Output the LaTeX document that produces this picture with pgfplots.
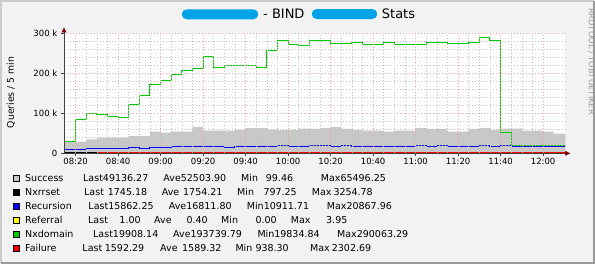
\documentclass[border=0pt]{standalone}
\usepackage{fontspec}
\setmainfont{DejaVu Sans}
\usepackage{pgfplots}
\pgfplotsset{compat=1.18}
\usetikzlibrary{arrows.meta}
\definecolor{bgc}{HTML}{F2F2F2}
\definecolor{shadea}{HTML}{CBCBCB}
\definecolor{shadeb}{HTML}{999999}
\definecolor{succ}{HTML}{C8C8C8}
\definecolor{nxd}{HTML}{00CC00}
\definecolor{recb}{HTML}{0000FF}
\definecolor{failr}{HTML}{FF0000}
\definecolor{refy}{HTML}{FFFF00}
\definecolor{mgrid}{HTML}{EFA0A0}
\definecolor{grid}{HTML}{C8C8C8}
\definecolor{arrowc}{HTML}{7F0000}
\definecolor{blob}{HTML}{00A3E6}
\newcommand{\lf}{\fontsize{9.5bp}{11bp}\selectfont}
\newcommand{\lt}[3]{\node[anchor=base west, inner sep=0pt, font=\lf] at (#1,#2) {#3};}
\newcommand{\sq}[2]{\draw[fill=#2, draw=black, line width=0.6bp] (13.3,#1-3) rectangle (19.3,#1+3);}
\begin{document}
\begin{tikzpicture}
\begin{scope}[x=1bp,y=-1bp]
  \fill[bgc] (0,0) rectangle (595,264);
  \draw[shadea, line width=2bp] (1,263) -- (1,1) -- (594,1);
  \draw[shadeb, line width=2bp] (1,263) -- (594,263) -- (594,1);
  % title
  \fill[blob, rounded corners=5bp] (181.7,9.3) rectangle (258.3,19.3);
  \fill[blob, rounded corners=5bp] (311.7,9) rectangle (377.3,19);
  \node[anchor=base west, inner sep=0pt, font=\fontsize{13bp}{15bp}\selectfont] at (263,18.3) {- BIND};
  \node[anchor=base west, inner sep=0pt, font=\fontsize{13bp}{15bp}\selectfont] at (381.7,18.3) {Stats};
  % y label
  \node[rotate=90, inner sep=0pt, font=\fontsize{9.3bp}{11bp}\selectfont] at (11,92.5) {Queries / 5 min};
  % credit
  \node[rotate=-90, inner sep=0pt, text=shadeb, font=\fontsize{8.3bp}{10bp}\selectfont] at (591.5,61.5) {RRDTOOL / TOBI OETIKER};
  % legend
  \sq{178.3}{succ}
  \lt{25}{181.8}{Success}\lt{83}{181.8}{Last49136.27}\lt{163.3}{181.8}{Ave52503.90}\lt{241}{181.8}{Min}\lt{265.7}{181.8}{99.46}\lt{320.7}{181.8}{Max65496.25}
  \sq{192.3}{black}
  \lt{25}{195.8}{Nxrrset}\lt{84}{195.8}{Last}\lt{107.7}{195.8}{1745.18}\lt{161.7}{195.8}{Ave}\lt{183}{195.8}{1754.21}\lt{237}{195.8}{Min}\lt{263.3}{195.8}{797.25}\lt{311.7}{195.8}{Max}\lt{333.3}{195.8}{3254.78}
  \sq{206.2}{recb}
  \lt{25}{209.7}{Recursion}\lt{88.3}{209.7}{Last15862.25}\lt{168.7}{209.7}{Ave16811.80}\lt{246.7}{209.7}{Min10911.71}\lt{326.7}{209.7}{Max20867.96}
  \sq{220}{refy}
  \lt{25}{223.5}{Referral}\lt{88}{223.5}{Last}\lt{119.3}{223.5}{1.00}\lt{154}{223.5}{Ave}\lt{186.3}{223.5}{0.40}\lt{221}{223.5}{Min}\lt{255.3}{223.5}{0.00}\lt{290.7}{223.5}{Max}\lt{326}{223.5}{3.95}
  \sq{234}{nxd}
  \lt{25}{237.5}{Nxdomain}\lt{93}{237.5}{Last19908.14}\lt{173}{237.5}{Ave193739.79}\lt{257.3}{237.5}{Min19834.84}\lt{337}{237.5}{Max290063.29}
  \sq{247.8}{failr}
  \lt{25}{251.3}{Failure}\lt{82.3}{251.3}{Last}\lt{104.7}{251.3}{1592.29}\lt{160}{251.3}{Ave}\lt{182}{251.3}{1589.32}\lt{235.3}{251.3}{Min}\lt{255.3}{251.3}{938.30}\lt{310}{251.3}{Max}\lt{331.7}{251.3}{2302.69}
\end{scope}
\begin{axis}[
  at={(64bp,-153.3bp)}, anchor=south west,
  scale only axis, width=501.4bp, height=120bp,
  xmin=14.54, xmax=250.5, ymin=0, ymax=300000,
  enlargelimits=false,
  scaled y ticks=false, scaled x ticks=false,
  axis lines=left,
  axis on top,
  axis background/.style={fill=white},
  x axis line style={draw=black!75, -{Latex[length=5bp,width=5bp,color=arrowc]}, shorten >=-5bp},
  y axis line style={draw=black!75, -{Latex[length=5bp,width=5bp,color=arrowc]}, shorten >=-6bp},
  xtick={20,40,...,240},
  xticklabels={08:20,08:40,09:00,09:20,09:40,10:00,10:20,10:40,11:00,11:20,11:40,12:00},
  minor x tick num=3,
  ytick={0,100000,200000,300000},
  yticklabels={0,100 k,200 k,300 k},
  minor y tick num=4,
  grid=both,
  major grid style={mgrid, line width=0.6bp, dash pattern=on 1.2bp off 1.8bp},
  minor grid style={grid, line width=0.6bp, dash pattern=on 1.2bp off 1.8bp},
  major tick length=3bp, minor tick length=0bp,
  tick align=outside,
  tick style={black!75, line width=0.6bp},
  xticklabel style={font=\fontsize{8.5bp}{10bp}\selectfont, inner sep=0pt, yshift=-2bp},
  yticklabel style={font=\fontsize{8.5bp}{10bp}\selectfont, inner sep=0pt, xshift=-3.5bp},
  clip=false,
]
% Success (area)
\addplot[const plot, fill=succ, draw=none] coordinates {
(14.54,29000) (25,35000) (30,39000) (45,43000) (55,54000) (60,51500) (65,54000)
(75,65500) (80,56500) (95,59000) (100,63000) (110,59000) (115,58500) (125,61500)
(130,61000) (135,63000) (140,65500) (145,61000) (150,58000) (155,56500) (165,54000)
(170,56500) (180,63000) (185,61000) (195,54000) (205,61000) (210,63000) (215,58500)
(220,62000) (230,56500) (240,54000) (245,49000) (250.5,49000)} \closedcycle;
% Nxrrset
\addplot[const plot, black, line width=1bp] coordinates {
(14.54,800) (30,1500) (35,3000) (55,1500) (75,3000) (85,1500) (100,2900) (105,1700)
(150,1800) (200,1700) (250.5,1745)};
% Recursion
\addplot[const plot, recb, line width=1bp] coordinates {
(14.54,10500) (25,12500) (45,15000) (50,12500) (55,15000) (65,17500) (90,15000)
(95,17500) (115,20000) (120,17500) (130,20000) (140,17500) (145,20000) (150,17500)
(180,20000) (185,17500) (190,20000) (195,17500) (210,20000) (215,17500) (220,20000)
(225,17500) (245,15900) (250.5,15900)};
% Referral
\addplot[const plot, refy, line width=1bp] coordinates {
(30,0) (100,1) (150,3.95) (200,0) (245,1) (250.5,1)};
% Nxdomain
\addplot[const plot, nxd, line width=1bp] coordinates {
(14.54,30000) (20,85000) (25,100000) (30,96000) (35,93000) (40,90000) (45,121000)
(50,145000) (55,172000) (60,182000) (65,196000) (70,208000) (75,211000) (80,242000)
(85,215000) (90,220000) (105,215000) (110,257000) (115,281000) (120,272000) (125,270000)
(130,281000) (140,275000) (150,277000) (155,272000) (165,277000) (170,272000)
(185,277000) (195,275000) (205,277000) (210,290000) (215,282000) (220,52000)
(225,19900) (250.5,19900)};
% Failure
\addplot[const plot, failr, line width=1.2bp] coordinates {
(30,1600) (35,1200) (55,1600) (75,1200) (85,1600) (100,1200) (105,1600)
(160,2300) (165,1600) (250.5,1592)};
\end{axis}
\pgfresetboundingbox
\path (0,0) rectangle (595bp,-264bp);
\end{tikzpicture}
\end{document}
